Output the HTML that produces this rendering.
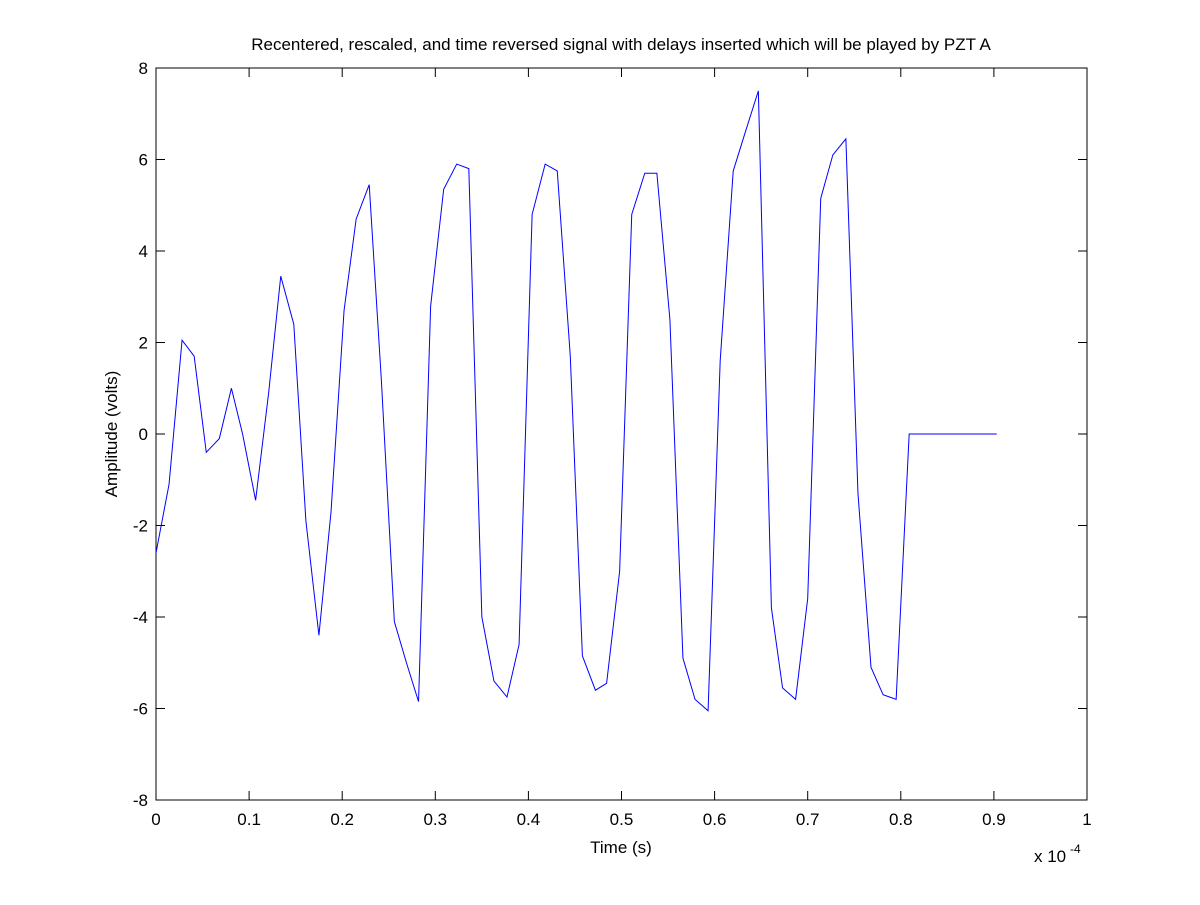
<!DOCTYPE html>
<html><head><meta charset="utf-8"><style>
body{margin:0;background:#fff;}
svg text{font-family:"Liberation Sans",Arial,sans-serif;font-size:17px;fill:#000;}
</style></head><body>
<svg id="chart" width="1200" height="900" xmlns="http://www.w3.org/2000/svg">
<rect width="1200" height="900" fill="#fff"/>
<g id="axes"></g>
</svg>
<script>
const times=[0,.014,.028,.041,.054,.068,.081,.093,.107,.121,.134,.148,.161,.175,.188,.202,.215,.229,.242,.256,.269,.282,.295,.309,.323,.336,.350,.363,.377,.390,.404,.418,.431,.445,.458,.472,.484,.498,.511,.525,.538,.552,.566,.579,.593,.606,.620,.633,.647,.661,.673,.687,.700,.714,.727,.741,.754,.768,.781,.795,.809,.903];
const amps=[-2.6,-1.1,2.05,1.7,-0.4,-0.1,1.0,0.0,-1.45,0.9,3.45,2.4,-1.9,-4.4,-1.7,2.7,4.7,5.45,1.2,-4.1,-5.0,-5.85,2.8,5.35,5.9,5.8,-4.0,-5.4,-5.75,-4.6,4.8,5.9,5.75,1.7,-4.85,-5.6,-5.45,-3.0,4.8,5.7,5.7,2.5,-4.9,-5.8,-6.05,1.6,5.75,6.6,7.5,-3.8,-5.55,-5.8,-3.6,5.15,6.1,6.45,-1.3,-5.1,-5.7,-5.8,0,0];
const xTicks=[0,0.1,0.2,0.3,0.4,0.5,0.6,0.7,0.8,0.9,1];
const xTickLabels=["0","0.1","0.2","0.3","0.4","0.5","0.6","0.7","0.8","0.9","1"];
const yTicks=[-8,-6,-4,-2,0,2,4,6,8];
const yTickLabels=["-8","-6","-4","-2","0","2","4","6","8"];
const L=156,R=1087,T=68,B=800;
const sx=v=>L+(v-0)/(1-0)*(R-L);
const sy=v=>B-(v+8)/16*(B-T);
const NS="http://www.w3.org/2000/svg";
const g=document.getElementById('axes');
function mk(tag,attrs,text){const e=document.createElementNS(NS,tag);for(const k in attrs)e.setAttribute(k,attrs[k]);if(text!==undefined)e.textContent=text;g.appendChild(e);return e;}
let box=mk('rect',{x:L,y:T,width:R-L,height:B-T,fill:'none',stroke:'#000','stroke-width':1});


xTicks.forEach((v,i)=>{
 const x=sx(v);
 let t1=mk('line',{x1:x,y1:B,x2:x,y2:B-9,stroke:'#000'});
 
 
 let t2=mk('line',{x1:x,y1:T,x2:x,y2:T+9,stroke:'#000'});
 
 
 let lb=mk('text',{x:x,y:B+25,'text-anchor':'middle'},xTickLabels[i]);
 
 
});
yTicks.forEach((v,i)=>{
 const y=sy(v);
 let t1=mk('line',{x1:L,y1:y,x2:L+9,y2:y,stroke:'#000'});
 
 
 let t2=mk('line',{x1:R,y1:y,x2:R-9,y2:y,stroke:'#000'});
 
 
 let lb=mk('text',{x:L-8,y:y+6,'text-anchor':'end'},yTickLabels[i]);
 
 
});
const pts=times.map((t,i)=>sx(t)+','+sy(amps[i])).join(' ');
let line=mk('polyline',{points:pts,fill:'none',stroke:'#0000ff','stroke-width':1});


let title=mk('text',{x:621,y:50,'text-anchor':'middle'},'Recentered, rescaled, and time reversed signal with delays inserted which will be played by PZT A');


let xl=mk('text',{x:621,y:853,'text-anchor':'middle'},'Time (s)');


let yl=mk('text',{x:0,y:0,'text-anchor':'middle',transform:'translate(117,434) rotate(-90)'},'Amplitude (volts)');


let ex=mk('text',{x:1034,y:862},'x 10');


let ex2=mk('text',{x:1070,y:853,'font-size':'12'},'-4');
ex2.setAttribute('style','font-size:12px');


</script>
</body></html>
